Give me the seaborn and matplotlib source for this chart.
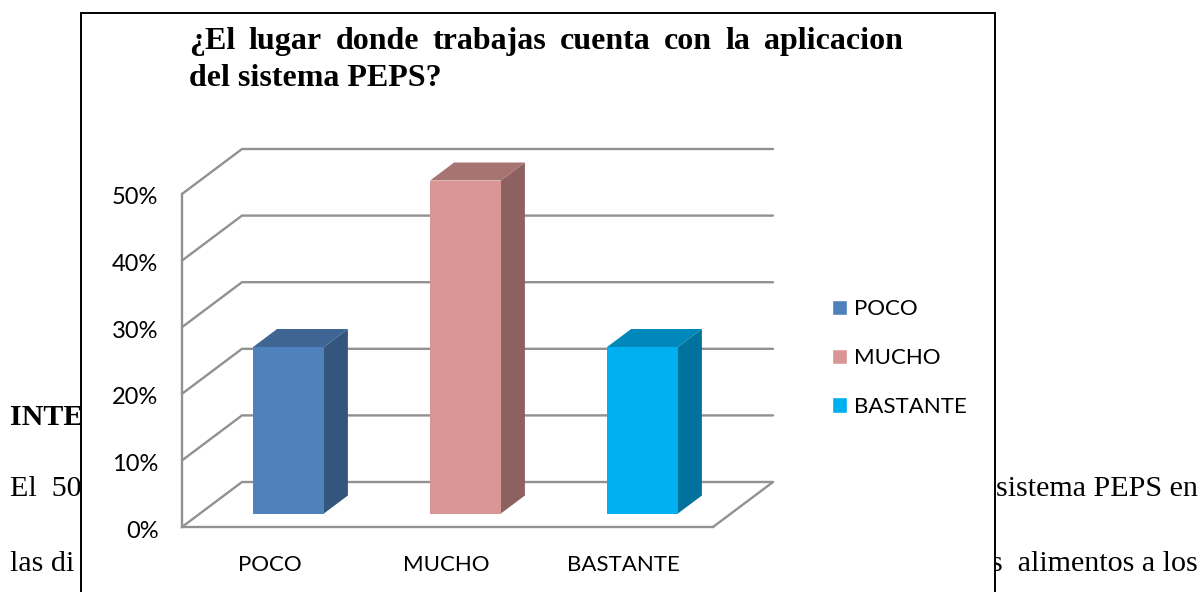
import matplotlib
matplotlib.use("Agg")
import matplotlib.pyplot as plt
import matplotlib.transforms as mtransforms
from matplotlib.patches import Polygon, Rectangle
from matplotlib.ticker import FuncFormatter
import seaborn as sns

# Values
categories = ["POCO", "MUCHO", "BASTANTE"]
values = [25, 50, 25]
y_ticks = [0, 10, 20, 30, 40, 50]
front_colors = ["#4F81BD", "#D99694", "#00B0F0"]
side_colors = ["#34557C", "#8C615F", "#00729C"]
top_colors = ["#3E6593", "#A87472", "#0088BA"]

title_first = ["¿El", "lugar", "donde", "trabajas", "cuenta", "con", "la", "aplicacion"]
title_second = "del sistema PEPS?"

W, H = 1202, 592
sns.set_style("white")
plt.rcParams["font.family"] = ["Lato", "DejaVu Sans"]
plt.rcParams["text.color"] = "black"

fig = plt.figure(figsize=(W / 100, H / 100), dpi=100, facecolor="white")

# Document text behind the chart box, only the parts that show
serif = ["Liberation Serif", "DejaVu Serif"]
body = 21.6
fig.text(10 / W, 1 - 425 / H, "INTER", family=serif, fontsize=body, weight="bold", zorder=0.5)
fig.text(10 / W, 1 - 496 / H, "El  50", family=serif, fontsize=body, zorder=0.5)
fig.text(10 / W, 1 - 571 / H, "las di", family=serif, fontsize=body, zorder=0.5)
fig.text(1198 / W, 1 - 496 / H, "sistema PEPS en", family=serif, fontsize=body, ha="right", zorder=0.5)
fig.text(1198 / W, 1 - 571 / H, "s  alimentos a los", family=serif, fontsize=body, ha="right", zorder=0.5)

# White chart box, runs off the bottom of the page
fig.add_artist(Rectangle((80.5 / W, -0.1), 914 / W, 1.1 - 12.5 / H, transform=fig.transFigure,
                         facecolor="white", edgecolor="black", linewidth=1.4, zorder=1))

# Title: first line justified word by word between x=189 and x=903
renderer = fig.canvas.get_renderer()
title_kw = dict(family=serif, fontsize=23, weight="bold", zorder=3)
words = [fig.text(189 / W, 1 - 49 / H, w, **title_kw) for w in title_first]
widths = [t.get_window_extent(renderer).width for t in words]
gap = (903 - 189 - sum(widths)) / (len(words) - 1)
x = 189
for t, w in zip(words, widths):
    t.set_x(x / W)
    x += w + gap
fig.text(189 / W, 1 - 86 / H, title_second, **title_kw)

# Axes is the front plane of the 3D box
ax = fig.add_axes([182 / W, 1 - 527 / H, 531 / W, 333 / H], zorder=2)
ax.patch.set_alpha(0)

depth_x = 60 / 177    # category units per full depth
depth_y = 45 / 6.66   # percent units per full depth


def project(x, y, depth):
    return (x + depth * depth_x, y + depth * depth_y)


sns.barplot(x=categories, y=values, hue=categories, palette=front_colors, hue_order=categories,
            width=0.4, saturation=1, ax=ax, legend=True)
ax.set_xlim(-0.5, 2.5)
ax.set_ylim(0, 50)

# walls and floor
line_kw = dict(color="#919191", linewidth=1.7, clip_on=False, zorder=1, solid_joinstyle="miter")
for t in y_ticks:
    pts = [project(-0.5, t, 0), project(-0.5, t, 1), project(2.5, t, 1)]
    ax.plot([p[0] for p in pts], [p[1] for p in pts], **line_kw)
pts = [project(2.5, 0, 0), project(2.5, 0, 1)]
ax.plot([p[0] for p in pts], [p[1] for p in pts], **line_kw)

# bars sit 0.3 into the depth and are 0.4 deep
bar_depth = 0.3
shift = mtransforms.Affine2D().translate(bar_depth * depth_x, bar_depth * depth_y) + ax.transData
for i, val in enumerate(values):
    left, right = i - 0.2, i + 0.2
    side = [project(right, 0, bar_depth), project(right, val, bar_depth),
            project(right, val, bar_depth + 0.4), project(right, 0, bar_depth + 0.4)]
    top = [project(left, val, bar_depth), project(right, val, bar_depth),
           project(right, val, bar_depth + 0.4), project(left, val, bar_depth + 0.4)]
    ax.add_patch(Polygon(side, closed=True, facecolor=side_colors[i], edgecolor="none", clip_on=False, zorder=3))
    ax.add_patch(Polygon(top, closed=True, facecolor=top_colors[i], edgecolor="none", clip_on=False, zorder=3))
for bar in ax.containers:
    for p in bar:
        p.set_transform(shift)
        p.set_clip_on(False)
        p.set_zorder(4)
        p.set_linewidth(0)

sns.despine(ax=ax, top=True, right=True)
for s in ["left", "bottom"]:
    ax.spines[s].set_color("#919191")
    ax.spines[s].set_linewidth(1.7)

ax.set_yticks(y_ticks)
ax.yaxis.set_major_formatter(FuncFormatter(lambda v, _: f"{v:.0f}%"))
ax.tick_params(axis="y", length=0, pad=17, labelsize=17, labelcolor="black")
ax.tick_params(axis="x", length=0, pad=20, labelsize=16, labelcolor="black")
ax.set_xlabel("")
ax.set_ylabel("")
ax.grid(False)

# labels sit a little lower / further left than the axis would put them
for lab in ax.get_yticklabels():
    lab.set_transform(lab.get_transform() + mtransforms.Affine2D().translate(0, -2))
for lab in ax.get_xticklabels():
    lab.set_transform(lab.get_transform() + mtransforms.Affine2D().translate(-1, 0))

handles, labels = ax.get_legend_handles_labels()
ax.legend(handles, labels, loc="upper left", bbox_to_anchor=(832 / W, 1 - 299 / H),
          bbox_transform=fig.transFigure, frameon=False, fontsize=16,
          handlelength=0.67, handleheight=0.67, handletextpad=0.3, labelspacing=1.3,
          borderpad=0, borderaxespad=0)

fig.savefig("out.png", dpi=100)
